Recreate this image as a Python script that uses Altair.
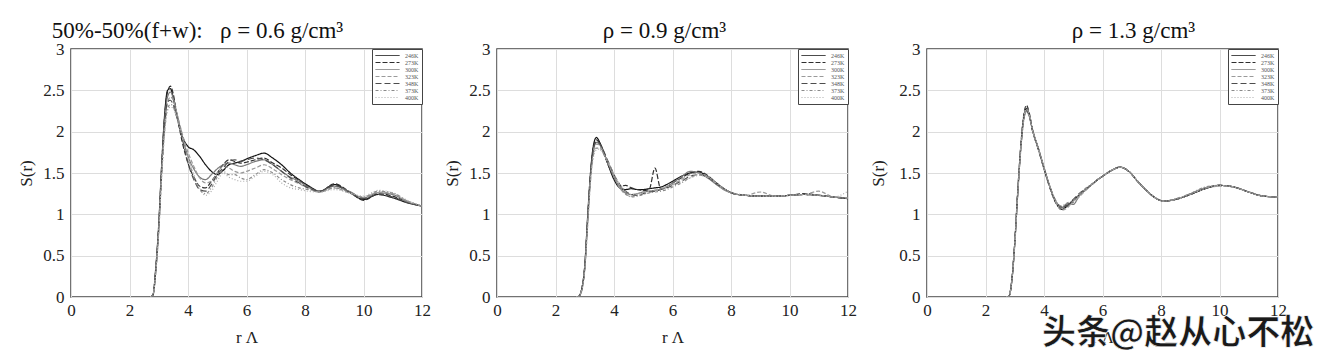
import altair as alt
import pandas as pd

# shared radial grid (Å)
R = [2.7, 2.8, 2.9, 3.0, 3.1, 3.2, 3.3, 3.4, 3.5, 3.6, 3.8, 4.0, 4.2, 4.4, 4.6, 4.8,
     5.0, 5.2, 5.4, 5.6, 5.8, 6.0, 6.3, 6.6, 6.9, 7.2, 7.5, 7.8, 8.1, 8.5, 9.0, 9.5,
     10.0, 10.5, 11.0, 11.5, 12.0]

TEMPS = ["246K", "273K", "300K", "323K", "348K", "373K", "400K"]

TITLES = ["50%-50%(f+w):\u00a0\u00a0\u00a0ρ = 0.6 g/cm³", "ρ = 0.9 g/cm³", "ρ = 1.3 g/cm³"]

X_TICKS = [0, 2, 4, 6, 8, 10, 12]
Y_TICKS = [0, 0.5, 1, 1.5, 2, 2.5, 3]

WATERMARK = "头条@赵从心不松"

# rho = 0.6 g/cm3
S06 = [
    [0, 0.02, 0.36, 0.88, 1.60, 2.20, 2.50, 2.52, 2.40, 2.22, 1.95, 1.82, 1.78, 1.70, 1.60, 1.52, 1.48, 1.53, 1.60, 1.62, 1.64, 1.67, 1.71, 1.74, 1.68, 1.60, 1.50, 1.42, 1.35, 1.28, 1.36, 1.27, 1.18, 1.24, 1.20, 1.14, 1.10],
    [0, 0.02, 0.34, 0.86, 1.58, 2.18, 2.48, 2.55, 2.45, 2.25, 1.88, 1.62, 1.45, 1.34, 1.32, 1.40, 1.50, 1.60, 1.66, 1.64, 1.62, 1.63, 1.66, 1.68, 1.62, 1.56, 1.48, 1.41, 1.34, 1.27, 1.37, 1.28, 1.17, 1.25, 1.22, 1.15, 1.10],
    [0, 0.02, 0.33, 0.84, 1.55, 2.12, 2.42, 2.48, 2.40, 2.25, 1.95, 1.70, 1.55, 1.45, 1.42, 1.48, 1.55, 1.60, 1.62, 1.60, 1.58, 1.60, 1.64, 1.66, 1.60, 1.52, 1.45, 1.40, 1.33, 1.28, 1.34, 1.28, 1.20, 1.26, 1.24, 1.15, 1.10],
    [0, 0.02, 0.32, 0.82, 1.50, 2.05, 2.35, 2.42, 2.38, 2.25, 1.98, 1.75, 1.58, 1.44, 1.38, 1.40, 1.50, 1.58, 1.56, 1.52, 1.50, 1.52, 1.56, 1.60, 1.55, 1.48, 1.42, 1.37, 1.32, 1.27, 1.32, 1.26, 1.20, 1.27, 1.25, 1.16, 1.10],
    [0, 0.02, 0.33, 0.83, 1.52, 2.08, 2.36, 2.38, 2.32, 2.20, 1.92, 1.62, 1.42, 1.30, 1.28, 1.36, 1.48, 1.56, 1.64, 1.66, 1.64, 1.66, 1.68, 1.66, 1.60, 1.52, 1.44, 1.38, 1.32, 1.28, 1.35, 1.27, 1.19, 1.24, 1.21, 1.14, 1.10],
    [0, 0.02, 0.30, 0.80, 1.48, 2.00, 2.28, 2.33, 2.30, 2.20, 1.96, 1.68, 1.45, 1.30, 1.25, 1.32, 1.45, 1.52, 1.48, 1.48, 1.44, 1.42, 1.48, 1.54, 1.50, 1.42, 1.36, 1.32, 1.30, 1.27, 1.32, 1.27, 1.21, 1.28, 1.26, 1.16, 1.10],
    [0, 0.02, 0.30, 0.78, 1.45, 1.98, 2.25, 2.30, 2.28, 2.18, 1.95, 1.70, 1.48, 1.32, 1.23, 1.28, 1.40, 1.50, 1.45, 1.42, 1.40, 1.40, 1.46, 1.52, 1.48, 1.38, 1.32, 1.30, 1.28, 1.27, 1.30, 1.26, 1.22, 1.29, 1.26, 1.17, 1.10],
]

# rho = 0.9 g/cm3
S09 = [
    [0, 0.01, 0.10, 0.38, 0.98, 1.52, 1.84, 1.93, 1.88, 1.80, 1.60, 1.42, 1.32, 1.30, 1.31, 1.30, 1.30, 1.31, 1.32, 1.33, 1.36, 1.40, 1.46, 1.50, 1.51, 1.46, 1.38, 1.30, 1.25, 1.23, 1.22, 1.22, 1.23, 1.24, 1.23, 1.21, 1.19],
    [0, 0.01, 0.10, 0.36, 0.95, 1.50, 1.82, 1.90, 1.86, 1.78, 1.60, 1.44, 1.34, 1.35, 1.32, 1.30, 1.29, 1.30, 1.56, 1.31, 1.33, 1.38, 1.44, 1.50, 1.52, 1.47, 1.38, 1.30, 1.25, 1.23, 1.22, 1.22, 1.23, 1.25, 1.23, 1.21, 1.19],
    [0, 0.01, 0.09, 0.35, 0.93, 1.47, 1.78, 1.87, 1.85, 1.78, 1.62, 1.45, 1.32, 1.26, 1.24, 1.25, 1.27, 1.28, 1.29, 1.30, 1.33, 1.38, 1.45, 1.52, 1.50, 1.44, 1.36, 1.29, 1.25, 1.23, 1.22, 1.22, 1.23, 1.24, 1.23, 1.21, 1.20],
    [0, 0.01, 0.09, 0.34, 0.90, 1.45, 1.75, 1.85, 1.84, 1.78, 1.62, 1.46, 1.32, 1.24, 1.22, 1.25, 1.27, 1.28, 1.29, 1.31, 1.34, 1.36, 1.42, 1.48, 1.50, 1.46, 1.37, 1.29, 1.25, 1.23, 1.27, 1.22, 1.23, 1.24, 1.28, 1.21, 1.20],
    [0, 0.01, 0.10, 0.36, 0.94, 1.48, 1.80, 1.88, 1.86, 1.80, 1.64, 1.48, 1.36, 1.28, 1.24, 1.23, 1.25, 1.27, 1.28, 1.30, 1.32, 1.35, 1.40, 1.46, 1.48, 1.45, 1.37, 1.30, 1.25, 1.23, 1.22, 1.22, 1.23, 1.24, 1.23, 1.21, 1.19],
    [0, 0.01, 0.08, 0.33, 0.88, 1.42, 1.72, 1.80, 1.80, 1.76, 1.63, 1.48, 1.34, 1.25, 1.21, 1.22, 1.24, 1.26, 1.27, 1.28, 1.30, 1.33, 1.38, 1.44, 1.48, 1.46, 1.38, 1.30, 1.25, 1.23, 1.22, 1.22, 1.23, 1.24, 1.23, 1.21, 1.19],
    [0, 0.01, 0.08, 0.32, 0.86, 1.40, 1.70, 1.78, 1.79, 1.75, 1.62, 1.48, 1.36, 1.28, 1.24, 1.24, 1.26, 1.28, 1.29, 1.30, 1.33, 1.36, 1.40, 1.44, 1.47, 1.45, 1.38, 1.30, 1.26, 1.23, 1.22, 1.22, 1.23, 1.24, 1.23, 1.21, 1.28],
]

# rho = 1.3 g/cm3
S13 = [
    [0, 0.01, 0.20, 0.65, 1.25, 1.78, 2.15, 2.28, 2.20, 2.03, 1.80, 1.56, 1.33, 1.15, 1.06, 1.10, 1.17, 1.23, 1.29, 1.35, 1.41, 1.46, 1.53, 1.57, 1.52, 1.40, 1.29, 1.20, 1.16, 1.18, 1.24, 1.31, 1.35, 1.33, 1.27, 1.22, 1.21],
    [0, 0.01, 0.21, 0.66, 1.27, 1.80, 2.18, 2.32, 2.22, 2.04, 1.80, 1.55, 1.32, 1.14, 1.07, 1.12, 1.15, 1.24, 1.29, 1.35, 1.41, 1.46, 1.53, 1.57, 1.52, 1.40, 1.29, 1.20, 1.16, 1.18, 1.24, 1.31, 1.35, 1.33, 1.27, 1.22, 1.21],
    [0, 0.01, 0.19, 0.64, 1.24, 1.76, 2.13, 2.26, 2.19, 2.03, 1.81, 1.57, 1.34, 1.16, 1.08, 1.13, 1.12, 1.22, 1.30, 1.35, 1.41, 1.46, 1.53, 1.57, 1.52, 1.40, 1.29, 1.20, 1.16, 1.18, 1.25, 1.32, 1.35, 1.33, 1.27, 1.22, 1.21],
    [0, 0.01, 0.20, 0.64, 1.24, 1.77, 2.14, 2.27, 2.20, 2.03, 1.80, 1.56, 1.33, 1.15, 1.05, 1.08, 1.16, 1.21, 1.28, 1.35, 1.41, 1.46, 1.53, 1.57, 1.52, 1.40, 1.29, 1.20, 1.16, 1.18, 1.24, 1.32, 1.34, 1.33, 1.27, 1.22, 1.21],
    [0, 0.01, 0.20, 0.65, 1.26, 1.79, 2.16, 2.25, 2.18, 2.02, 1.79, 1.55, 1.33, 1.16, 1.09, 1.11, 1.18, 1.25, 1.30, 1.35, 1.41, 1.46, 1.53, 1.57, 1.52, 1.40, 1.29, 1.20, 1.16, 1.18, 1.24, 1.31, 1.35, 1.33, 1.27, 1.22, 1.21],
    [0, 0.01, 0.19, 0.63, 1.23, 1.75, 2.12, 2.24, 2.18, 2.02, 1.80, 1.56, 1.34, 1.17, 1.10, 1.14, 1.17, 1.24, 1.31, 1.36, 1.41, 1.46, 1.53, 1.57, 1.52, 1.40, 1.29, 1.20, 1.16, 1.19, 1.25, 1.33, 1.35, 1.33, 1.27, 1.22, 1.21],
    [0, 0.01, 0.20, 0.64, 1.25, 1.78, 2.15, 2.29, 2.21, 2.03, 1.80, 1.56, 1.33, 1.15, 1.07, 1.09, 1.15, 1.22, 1.29, 1.35, 1.41, 1.46, 1.53, 1.57, 1.52, 1.40, 1.29, 1.20, 1.16, 1.18, 1.24, 1.31, 1.35, 1.33, 1.27, 1.22, 1.21],
]

COLORS = ["#111111", "#2e2e2e", "#7a7a7a", "#9a9a9a", "#4d4d4d", "#8a8a8a", "#adadad"]
DASHES = [[1, 0], [5, 2], [1, 0], [4, 2], [6, 3], [3, 2, 1, 2], [1, 2]]

SERIF = "Liberation Serif"


def frame(series):
    rows = []
    for t, vals in zip(TEMPS, series):
        for r, s in zip(R, vals):
            rows.append({"r": r, "S": s, "T": t})
    return pd.DataFrame(rows)


def panel(series, title_text, dx, watermark=False, ytitle_pad=7):
    leg = alt.Legend(
        title=None, orient="top-right", offset=0, padding=3,
        fillColor="white", strokeColor="#444",
        labelFont=SERIF, labelFontSize=6, labelColor="#555",
        symbolType="M-4,0H4", symbolSize=36, symbolStrokeWidth=1,
        symbolOffset=9, labelOffset=14,
        rowPadding=0, labelLimit=40,
    )
    lines = alt.Chart(frame(series)).mark_line(
        interpolate="monotone", strokeWidth=1.2, clip=True
    ).encode(
        x=alt.X("r:Q", scale=alt.Scale(domain=[0, 12], nice=False),
                axis=alt.Axis(values=X_TICKS, title="r Λ", labelFlush=False)),
        y=alt.Y("S:Q", scale=alt.Scale(domain=[0, 3], nice=False),
                axis=alt.Axis(values=Y_TICKS, format="~g", title="S(r)", labelFlush=False,
                              titlePadding=ytitle_pad)),
        color=alt.Color("T:N", scale=alt.Scale(domain=TEMPS, range=COLORS), legend=leg),
        strokeDash=alt.StrokeDash("T:N", scale=alt.Scale(domain=TEMPS, range=DASHES), legend=leg),
    )
    layers = [lines]
    if watermark:
        wm = alt.Chart(pd.DataFrame({"t": [WATERMARK]})).mark_text(
            font="Noto Sans CJK SC", fontSize=34, fontWeight="bold",
            align="left", baseline="middle", color="#1a1a1a",
            stroke="white", strokeWidth=0.6,
        ).encode(text="t:N", x=alt.value(115), y=alt.value(285))
        layers.append(wm)
    return alt.layer(*layers).properties(
        width=351, height=248,
        title=alt.Title(title_text, font=SERIF, fontSize=23, fontWeight="normal",
                        color="#111", anchor="middle", dx=dx, offset=-3),
    )


chart = alt.hconcat(
    panel(S06, TITLES[0], -49),
    panel(S09, TITLES[1], -8),
    panel(S13, TITLES[2], 31, watermark=True, ytitle_pad=11),
    spacing=11,
).resolve_legend(color="independent", strokeDash="independent").resolve_scale(
    color="independent", strokeDash="independent"
).properties(
    padding={"left": 9, "top": 11, "right": 0, "bottom": 0}
).configure_view(
    stroke="#444", strokeWidth=1.5
).configure_axis(
    grid=True, gridColor="#dddddd", ticks=False, domain=False,
    labelFont=SERIF, labelFontSize=17, labelColor="#222",
    titleFont=SERIF, titleFontSize=17, titleFontWeight="normal", titleColor="#222",
).configure_axisY(
    labelPadding=7
).configure_axisX(
    labelPadding=5, titlePadding=11
)

chart.save("out.html", embed_options={"renderer": "svg", "actions": False})
